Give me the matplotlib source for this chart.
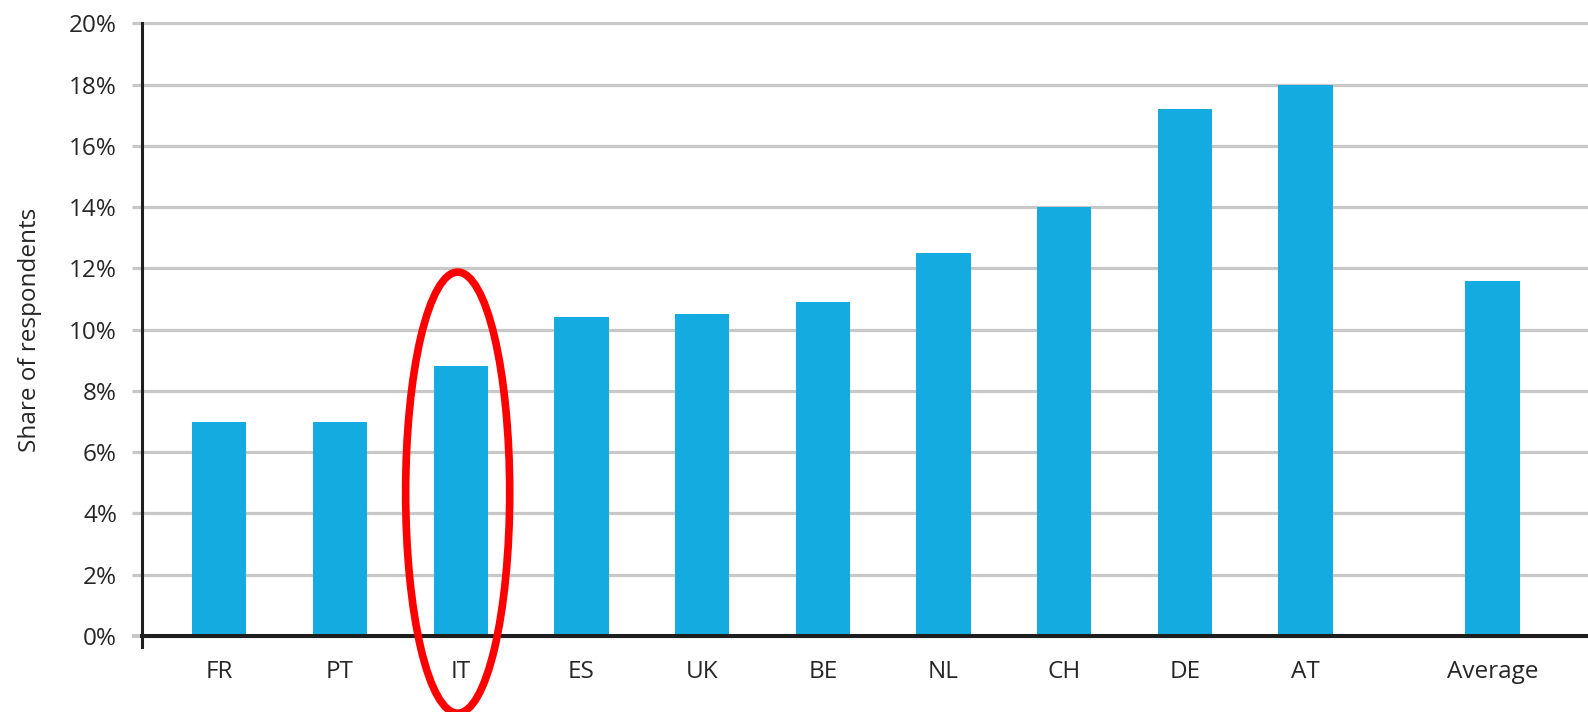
import matplotlib
matplotlib.use("Agg")
import matplotlib.pyplot as plt
from matplotlib.patches import Ellipse
from matplotlib.ticker import FuncFormatter
import numpy as np

# ---- data ----
countries = ["FR", "PT", "IT", "ES", "UK", "BE", "NL", "CH", "DE", "AT"]
country_values = [7.0, 7.0, 8.8, 10.4, 10.5, 10.9, 12.5, 14.0, 17.2, 18.0]
average_label = "Average"
average_value = 11.6
highlight = "IT"
y_ticks = [0, 2, 4, 6, 8, 10, 12, 14, 16, 18, 20]
y_label = "Share of respondents"

# ---- style ----
plt.rcParams['font.family'] = ['Open Sans', 'DejaVu Sans']
BAR = '#14ACE0'
GRID = '#C8C8C8'
TXT = '#262626'
SPINE = '#1E1E1E'

W, H = 1588, 712
fig = plt.figure(figsize=(W / 100, H / 100), dpi=100)

ax_left = 141.7 / W
ax_bottom = (H - 647) / H
ax_top = (H - 21.8) / H
ax = fig.add_axes([ax_left, ax_bottom, 1 - ax_left, ax_top - ax_bottom])

labels = countries + [average_label]
values = country_values + [average_value]
x = list(np.arange(len(countries), dtype=float)) + [len(countries) + 0.55]

ax.bar(x, values, width=0.45, color=BAR, zorder=3)

ax.set_xlim(-0.643, 11.34)
ax.set_ylim(-0.359, 20.05)

ax.set_yticks(y_ticks)
ax.yaxis.set_major_formatter(FuncFormatter(lambda v, p: f"{int(round(v))}%"))
ax.set_xticks(x)
ax.set_xticklabels(labels)

ax.grid(axis='y', color=GRID, linewidth=2.3, zorder=0)
ax.set_axisbelow(True)

for s in ['top', 'right']:
    ax.spines[s].set_visible(False)
ax.spines['left'].set_color(SPINE)
ax.spines['left'].set_linewidth(2.2)
ax.spines['left'].set_bounds(-0.359, 20)
ax.spines['bottom'].set_position(('data', 0))
ax.spines['bottom'].set_color(SPINE)
ax.spines['bottom'].set_linewidth(2.9)
ax.spines['bottom'].set_zorder(4)

ax.tick_params(axis='y', length=7.2, width=2.3, color=GRID, pad=10.5,
               labelsize=17.5, labelcolor=TXT)
ax.tick_params(axis='x', length=0, pad=17.5, labelsize=17.5, labelcolor=TXT)
t0 = ax.yaxis.get_major_ticks()[0]
t0.tick1line.set_color(SPINE)
t0.tick1line.set_markeredgewidth(2.9)

fig.text(30.5 / W, 1 - 330 / H, y_label, rotation=90, ha='center', va='center',
         fontsize=17.5, color=TXT)

# red highlight ellipse around IT
ix = labels.index(highlight)
ell = Ellipse((x[ix] - 0.025, 4.68), width=0.862, height=14.4, fill=False,
              edgecolor='#FF0000', linewidth=5.5, clip_on=False, zorder=5)
ax.add_patch(ell)

fig.savefig("out.png", dpi=100)
